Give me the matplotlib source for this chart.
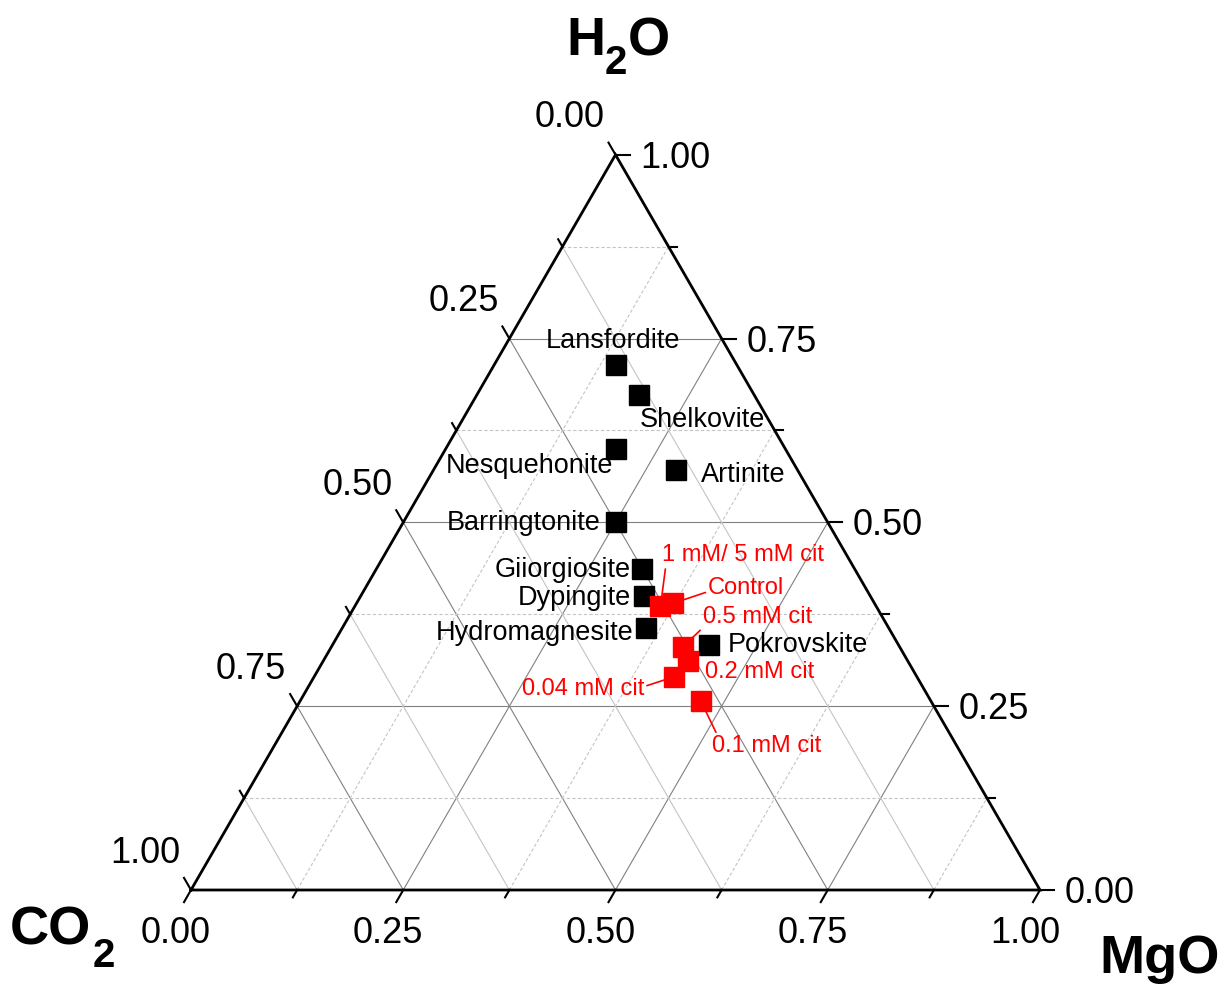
import numpy as np
import matplotlib
matplotlib.use('Agg')
import matplotlib.pyplot as plt

plt.rcParams['font.family'] = ['Liberation Sans', 'DejaVu Sans']

# mole fractions MgO / CO2 / H2O
minerals = ['Lansfordite', 'Shelkovite', 'Nesquehonite', 'Artinite', 'Barringtonite',
            'Giiorgiosite', 'Dypingite', 'Hydromagnesite', 'Pokrovskite']
min_mgo = [0.143, 0.191, 0.200, 0.286, 0.250, 0.313, 0.333, 0.357, 0.444]
min_co2 = [0.143, 0.136, 0.200, 0.143, 0.250, 0.250, 0.267, 0.286, 0.223]
min_h2o = [0.714, 0.673, 0.600, 0.571, 0.500, 0.437, 0.400, 0.357, 0.333]

samples = ['1 mM/ 5 mM cit', 'Control', '0.5 mM cit', '0.2 mM cit', '0.04 mM cit', '0.1 mM cit']
smp_mgo = [0.360, 0.373, 0.414, 0.429, 0.424, 0.472]
smp_co2 = [0.254, 0.237, 0.255, 0.259, 0.286, 0.271]
smp_h2o = [0.386, 0.390, 0.331, 0.312, 0.290, 0.257]

major = [0.0, 0.25, 0.5, 0.75, 1.0]
minor = [0.125, 0.375, 0.625, 0.875]
tick_labels = ['0.00', '0.25', '0.50', '0.75', '1.00']

S3 = np.sqrt(3) / 2
PX = 849.0  # pixels per unit side
W, H = 1227, 988


def tern(mgo, co2, h2o):
    mgo, co2, h2o = np.asarray(mgo), np.asarray(co2), np.asarray(h2o)
    tot = mgo + co2 + h2o
    mgo, h2o = mgo / tot, h2o / tot
    return mgo + h2o / 2, h2o * S3


def pt(px):
    return px * 0.72


fig = plt.figure(figsize=(12.27, 9.88), dpi=100)
ax = fig.add_axes([0, 0, 1, 1])
ax.set_xlim(-191 / PX, 1036 / PX)
ax.set_ylim(-98 / PX, 890 / PX)
ax.axis('off')

# grid
gmaj = dict(color='#808080', lw=0.8, zorder=1)
gmin_d = dict(color='#c4c4c4', lw=0.8, ls=(0, (3, 2)), zorder=1)
gmin_s = dict(color='#c4c4c4', lw=0.8, zorder=1)
for v in major[1:-1] + minor:
    st = gmaj if v in major else gmin_d
    x, y = tern([0, 1 - v], [1 - v, 0], [v, v])          # const H2O
    ax.plot(x, y, **st)
    x, y = tern([v, v], [1 - v, 0], [0, 1 - v])          # const MgO
    ax.plot(x, y, **st)
    st = gmaj if v in major else gmin_s
    x, y = tern([1 - v, 0], [v, v], [0, 1 - v])          # const CO2
    ax.plot(x, y, **st)

# frame
x, y = tern([0, 1, 0, 0], [1, 0, 0, 1], [0, 0, 1, 0])
ax.plot(x, y, color='black', lw=2.0, zorder=2, solid_joinstyle='miter')

# ticks
d_bot = np.array([-0.5, -S3])
d_left = np.array([-0.5, S3])
d_right = np.array([1.0, 0.0])
for v in major + minor:
    L = (14 if v in major else 8.5) / PX
    bx, by = tern(v, 1 - v, 0)
    ax.plot([bx, bx + L * d_bot[0]], [by, by + L * d_bot[1]], color='black', lw=1.5)
    lx, ly = tern(0, v, 1 - v)
    ax.plot([lx, lx + L * d_left[0]], [ly, ly + L * d_left[1]], color='black', lw=1.5)
    rx, ry = tern(1 - v, 0, v)
    ax.plot([rx, rx + L * d_right[0]], [ry, ry + L * d_right[1]], color='black', lw=1.5)

for v, lab in zip(major, tick_labels):
    bx, by = tern(v, 1 - v, 0)
    ax.annotate(lab, (bx, by), xytext=(pt(-15), pt(-43)), textcoords='offset points',
                ha='center', va='center', fontsize=26)
    lx, ly = tern(0, v, 1 - v)
    ax.annotate(lab, (lx, ly), xytext=(pt(-46), pt(37)), textcoords='offset points',
                ha='center', va='center', fontsize=26)
    rx, ry = tern(1 - v, 0, v)
    ax.annotate(lab, (rx, ry), xytext=(pt(25), pt(-3.5)), textcoords='offset points',
                ha='left', va='center', fontsize=26)

# corner titles, built piece by piece so the subscript sits low like the original
renderer = fig.canvas.get_renderer()


def chem(x0, base, parts, size=39, sub_size=29, drop=19, gap=0):
    x = x0
    for s, is_sub in parts:
        y = base + drop if is_sub else base
        if is_sub:
            x += gap
        t = fig.text(x / W, 1 - y / H, s, fontsize=sub_size if is_sub else size,
                     fontweight='bold', ha='left', va='baseline')
        x = t.get_window_extent(renderer).x1


chem(566, 55, [('H', False), ('2', True), ('O', False)], drop=19)
chem(10, 944, [('CO', False), ('2', True)], drop=23, gap=1)
chem(1099, 973, [('MgO', False)])

# minerals
mx, my = tern(min_mgo, min_co2, min_h2o)
ax.plot(mx, my, 's', color='black', ms=14.5, ls='none', zorder=5)
min_pos = [(-3, 24, 'center'), (1, -25, 'left'), (-2, -17, 'right'), (25, -5, 'left'),
           (-15, -1, 'right'), (-11, -1, 'right'), (-13, -2, 'right'), (-12, -5, 'right'),
           (18, 0, 'left')]
for name, xx, yy, (dx, dy, ha) in zip(minerals, mx, my, min_pos):
    ax.annotate(name, (xx, yy), xytext=(pt(dx), pt(dy)), textcoords='offset points',
                ha=ha, va='center', fontsize=19.5, color='black', zorder=6)

# samples
sx, sy = tern(smp_mgo, smp_co2, smp_h2o)
ax.plot(sx, sy, 's', color='red', ms=14.5, ls='none', zorder=5)
smp_pos = [(2, 51, 'left', (0.02, 0.0)), (35, 15, 'left', (0.0, 0.35)),
           (20, 30, 'left', (0.0, 0.0)), (17.5, -11, 'left', None),
           (-30, -12, 'right', (1.0, 0.6)), (11, -45, 'left', (0.05, 1.0))]
for name, xx, yy, (dx, dy, ha, rp) in zip(samples, sx, sy, smp_pos):
    ap = None
    if rp is not None:
        ap = dict(arrowstyle='-', color='red', lw=1.2, relpos=rp, shrinkA=0, shrinkB=0)
    ax.annotate(name, (xx, yy), xytext=(pt(dx), pt(dy)), textcoords='offset points',
                ha=ha, va='center', fontsize=17, color='red', arrowprops=ap, zorder=4)

fig.savefig('out.png', dpi=100)
